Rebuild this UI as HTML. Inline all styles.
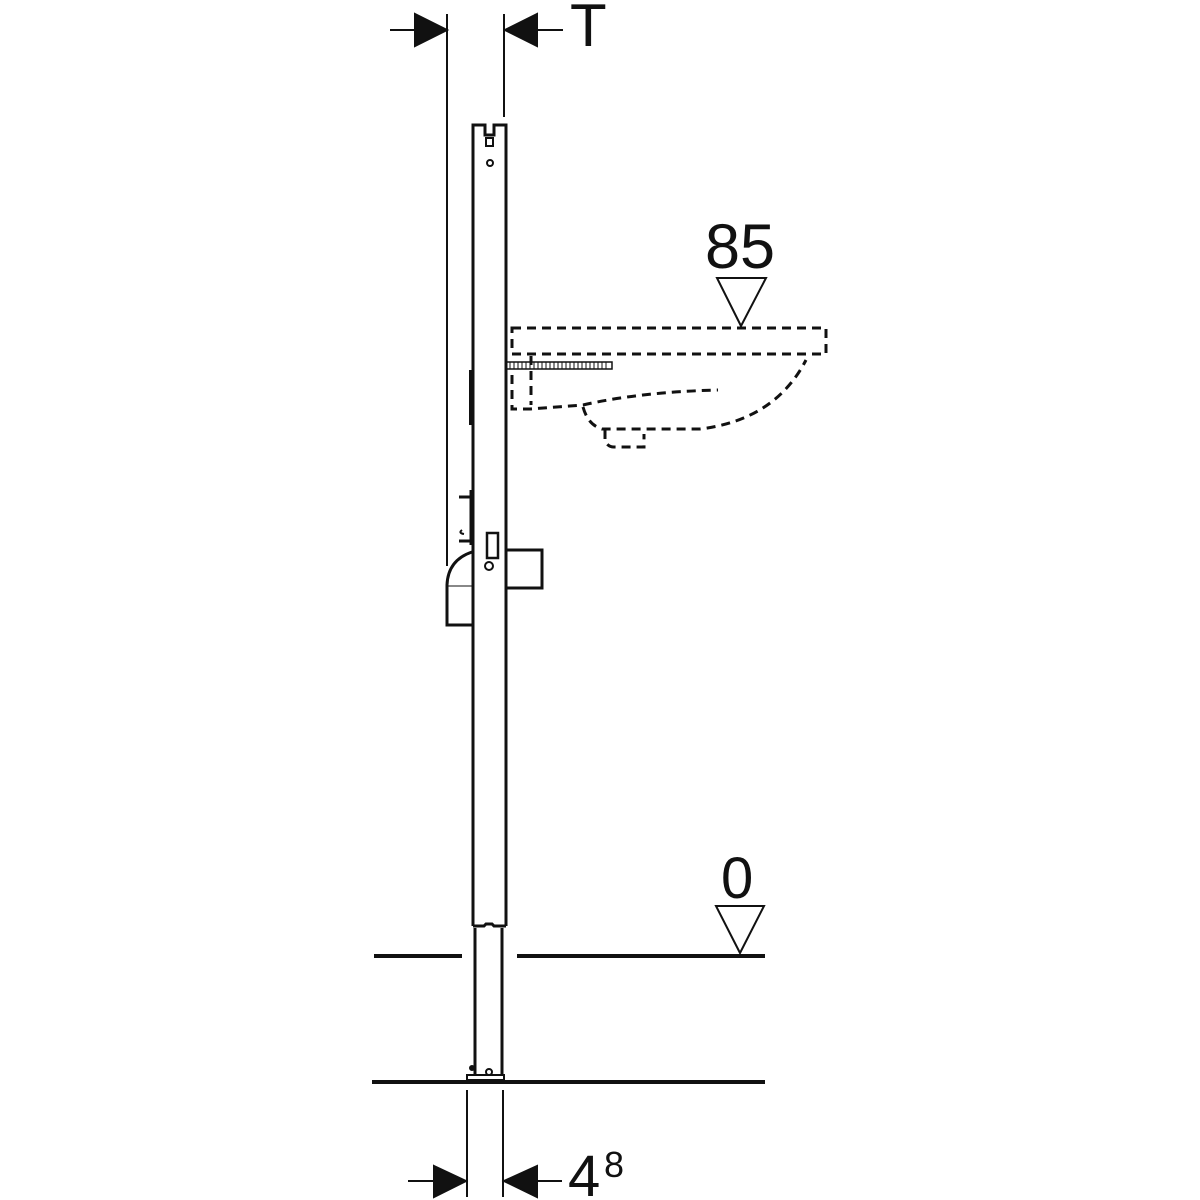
<!DOCTYPE html>
<html><head><style>html,body{margin:0;padding:0;background:#fff}svg{display:block}</style></head>
<body>
<svg width="1200" height="1200" viewBox="0 0 1200 1200" xmlns="http://www.w3.org/2000/svg">
<g stroke="#111" fill="none" stroke-width="2">
<line x1="447" y1="14" x2="447" y2="566" />
<line x1="504" y1="14" x2="504" y2="117" />
<line x1="390" y1="30" x2="420" y2="30" />
<polygon points="415,14 447,30 415,46" fill="#111"/>
<line x1="537" y1="30" x2="563" y2="30" />
<polygon points="537,14 505,30 537,46" fill="#111"/>
<path d="M473,926 V125 H485 V135 H494 V125 H506 V926" stroke-width="3"/>
<rect x="486" y="138" width="7" height="8"/>
<circle cx="490" cy="163" r="3"/>
<line x1="471" y1="370" x2="471" y2="425" stroke-width="4"/>
<path d="M473,926 H484 L486,924 H492 L494,926 H506" stroke-width="3"/>
<line x1="475" y1="928" x2="475" y2="1075" stroke-width="3"/>
<line x1="502" y1="928" x2="502" y2="1075" stroke-width="3"/>
<rect x="467" y="1075" width="37" height="5" stroke-width="2"/>
<circle cx="489" cy="1072" r="3"/>
<circle cx="472" cy="1068" r="2" fill="#111"/>
<line x1="374" y1="956" x2="462" y2="956" stroke-width="4"/>
<line x1="517" y1="956" x2="765" y2="956" stroke-width="4"/>
<line x1="372" y1="1082" x2="765" y2="1082" stroke-width="4"/>
<line x1="467" y1="1090" x2="467" y2="1197"/>
<line x1="503" y1="1090" x2="503" y2="1197"/>
<line x1="408" y1="1181" x2="440" y2="1181"/>
<polygon points="434,1166 466,1181 434,1197" fill="#111"/>
<line x1="530" y1="1181" x2="562" y2="1181"/>
<polygon points="537,1166 504,1181 537,1197" fill="#111"/>
<line x1="459" y1="497" x2="472" y2="497" stroke-width="3"/>
<line x1="459" y1="541" x2="472" y2="541" stroke-width="3"/>
<line x1="471" y1="490" x2="471" y2="545" stroke-width="3"/>
<path d="M462,530 q-4,3 2,4" stroke-width="2"/>
<path d="M472,552 Q448,560 447,585 V625 H472" stroke-width="3"/>
<line x1="448" y1="586" x2="472" y2="586" stroke-width="1"/>
<rect x="487" y="533" width="11" height="25" stroke-width="2.5"/>
<circle cx="489" cy="566" r="4" stroke-width="2"/>
<path d="M506,550 H542 V588 H506" stroke-width="3"/>
<g stroke-dasharray="9,6" stroke-width="3">
<rect x="512" y="328" width="314" height="26"/>
<path d="M512,375 V409 H530 L583,405 Q640,392 718,390"/>
<line x1="531" y1="356" x2="531" y2="405"/>
<path d="M583,407 Q588,425 602,429 H700 Q775,420 806,360"/>
<path d="M605,430 V441 Q608,447 614,447 H644 V434"/>
</g>
<rect x="506" y="362" width="106" height="7" stroke-width="1.5"/>
<path d="M510,362 v7 M514,362 v7 M518,362 v7 M522,362 v7 M526,362 v7 M530,362 v7 M534,362 v7 M538,362 v7 M542,362 v7 M546,362 v7 M550,362 v7 M554,362 v7 M558,362 v7 M562,362 v7 M566,362 v7 M570,362 v7 M574,362 v7 M578,362 v7 M582,362 v7 M586,362 v7 M590,362 v7 M594,362 v7 M598,362 v7 M602,362 v7 M606,362 v7" stroke-width="1"/>
<polygon points="717,278 766,278 741,326" stroke-width="2"/>
<polygon points="716,906 764,906 740,953" stroke-width="2"/>
</g>
<g font-family="Liberation Sans, sans-serif" fill="#111">
<text x="570" y="46" font-size="60">T</text>
<text x="705" y="268" font-size="63">85</text>
<text x="721" y="898" font-size="58">0</text>
<text x="568" y="1196" font-size="58">4</text>
<text x="604" y="1177" font-size="36">8</text>
</g>
</svg>
</body></html>
